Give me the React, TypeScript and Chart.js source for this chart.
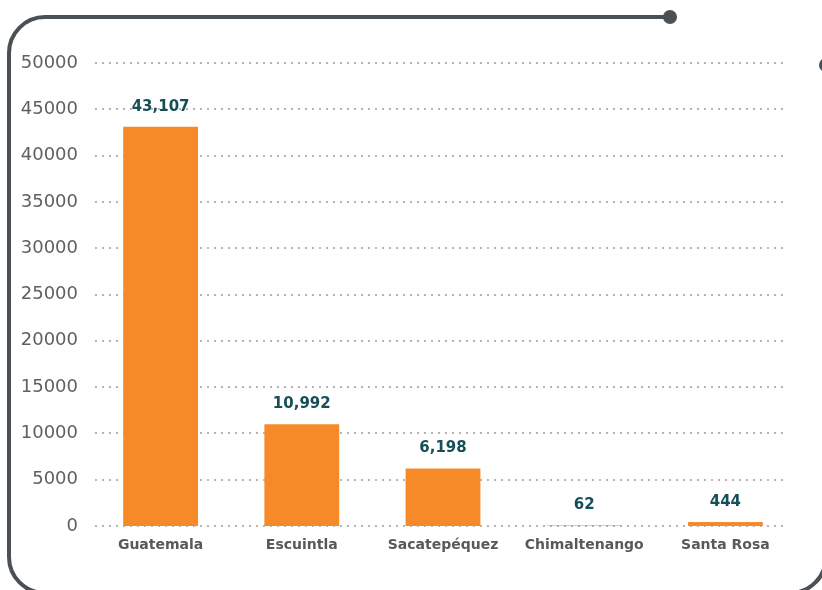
import React, { useEffect, useRef } from "react";
import { Chart, registerables } from "chart.js";

Chart.register(...registerables);

const categories = ["Guatemala", "Escuintla", "Sacatepéquez", "Chimaltenango", "Santa Rosa"];
const values = [43107, 10992, 6198, 62, 444];
const yTicks = [0, 5000, 10000, 15000, 20000, 25000, 30000, 35000, 40000, 45000, 50000];

const FRAME = "#4b5055";
const BAR = "#f68a29";
const LABEL = "#164f58";
const TEXT = "#595959";

const framePlugin = {
  id: "frame",
  beforeDraw(chart: any) {
    const ctx = chart.ctx as CanvasRenderingContext2D;
    ctx.save();
    ctx.strokeStyle = FRAME;
    ctx.fillStyle = FRAME;
    ctx.lineWidth = 4;
    const L = 9, T = 17, B = 593, R = 826, r = 36;
    ctx.beginPath();
    ctx.moveTo(670, T);
    ctx.lineTo(L + r, T);
    ctx.arcTo(L, T, L, T + r, r);
    ctx.lineTo(L, B - r);
    ctx.arcTo(L, B, L + r, B, r);
    ctx.lineTo(R - r, B);
    ctx.arcTo(R, B, R, B - r, r);
    ctx.lineTo(R, 65);
    ctx.stroke();
    ctx.beginPath();
    ctx.arc(670, T, 7, 0, Math.PI * 2);
    ctx.fill();
    ctx.beginPath();
    ctx.arc(R, 65, 7, 0, Math.PI * 2);
    ctx.fill();
    ctx.restore();
  },
};

const gridPlugin = {
  id: "dotgrid",
  beforeDatasetsDraw(chart: any) {
    const ctx = chart.ctx as CanvasRenderingContext2D;
    const y = chart.scales.y;
    const area = chart.chartArea;
    ctx.save();
    ctx.fillStyle = "#a3a3a3";
    for (const v of yTicks) {
      const py = Math.round(y.getPixelForValue(v));
      for (let x = area.left + 6; x <= area.right - 8; x += 7) {
        ctx.beginPath();
        ctx.arc(x, py, 1.1, 0, Math.PI * 2);
        ctx.fill();
      }
    }
    ctx.restore();
  },
};

const labelPlugin = {
  id: "valuelabels",
  afterDatasetsDraw(chart: any) {
    const ctx = chart.ctx as CanvasRenderingContext2D;
    const meta = chart.getDatasetMeta(0);
    ctx.save();
    ctx.font = "bold 15px 'DejaVu Sans'";
    ctx.fillStyle = LABEL;
    ctx.textAlign = "center";
    ctx.textBaseline = "middle";
    meta.data.forEach((bar: any, i: number) => {
      ctx.fillText(values[i].toLocaleString("en-US"), bar.x, bar.y - 20);
    });
    ctx.restore();
  },
};

export default function App() {
  const ref = useRef<HTMLCanvasElement | null>(null);
  useEffect(() => {
    if (!ref.current) return;
    const chart = new Chart(ref.current, {
      type: "bar",
      data: {
        labels: categories,
        datasets: [
          {
            data: values,
            backgroundColor: BAR,
            barPercentage: 0.53,
            categoryPercentage: 1,
          },
        ],
      },
      options: {
        animation: false,
        responsive: false,
        maintainAspectRatio: false,
        layout: { padding: { top: 63, right: 26, left: 0, bottom: 0 } },
        plugins: { legend: { display: false }, tooltip: { enabled: false } },
        scales: {
          x: {
            grid: { display: false, drawTicks: false },
            border: { display: false },
            ticks: {
              color: TEXT,
              font: { family: "'DejaVu Sans'", size: 14, weight: "bold" },
              padding: 11,
              maxRotation: 0,
            },
            afterFit(scale: any) {
              scale.height = 64;
            },
          },
          y: {
            min: 0,
            max: 50000,
            grid: { display: false, drawTicks: false },
            border: { display: false },
            afterBuildTicks(scale: any) {
              scale.ticks = yTicks.map((v) => ({ value: v }));
            },
            ticks: {
              color: "#606060",
              font: { family: "'DejaVu Sans'", size: 18 },
              padding: 12,
              callback: (v: any) => String(v),
            },
            afterFit(scale: any) {
              scale.width = 90;
            },
          },
        },
      },
      plugins: [framePlugin, gridPlugin, labelPlugin],
    });
    return () => chart.destroy();
  }, []);
  return (
    <div style={{ position: "fixed", left: 0, top: 0, width: 822, height: 590, background: "#fff" }}>
      <canvas ref={ref} width={822} height={590} style={{ width: 822, height: 590 }} />
    </div>
  );
}
